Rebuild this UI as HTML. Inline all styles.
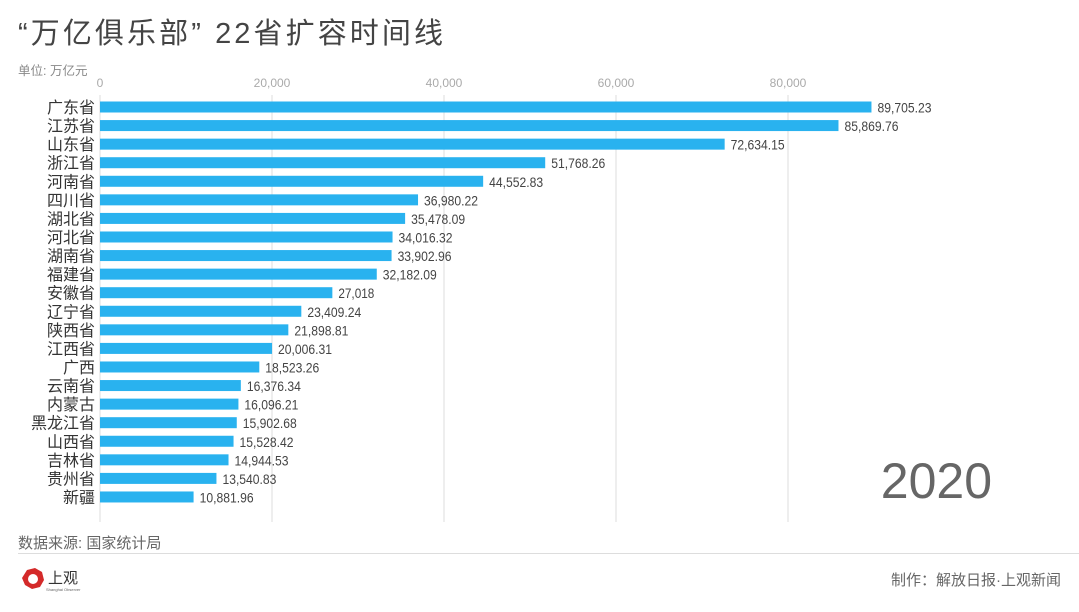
<!DOCTYPE html>
<html><head><meta charset="utf-8"><style>
body{margin:0;width:1079px;height:607px;background:#fff;overflow:hidden;font-family:"Liberation Sans","Noto Sans CJK SC",sans-serif;}
svg text{font-family:"Liberation Sans","Noto Sans CJK SC",sans-serif;}
</style></head><body>
<svg id="c" width="1079" height="607">
<text x="18" y="43" font-size="29" fill="#444" textLength="425" lengthAdjust="spacing">“万亿俱乐部” 22省扩容时间线</text>
<text x="18" y="75" font-size="12.5" fill="#888">单位: 万亿元</text>
<g id="grid"></g><g id="bars"></g>
<text x="992" y="498" font-size="50" fill="#666" text-anchor="end">2020</text>
<text x="18" y="548" font-size="15" fill="#666">数据来源: 国家统计局</text>
<line x1="18" y1="553.5" x2="1079" y2="553.5" stroke="#ddd"/>
<g>
<polygon points="27,570 35,568 42,572 44,580 40,587 32,589 25,585 22,578" fill="#d42a2a"/>
<circle cx="33" cy="579" r="5" fill="#fff"/>
<text x="48" y="583" font-size="15" fill="#333" font-family="Noto Serif CJK SC">上观</text>
<text x="46" y="591" font-size="4" fill="#666">Shanghai Observer</text>
</g>
<text x="1061" y="585" font-size="15" fill="#666" text-anchor="end">制作：解放日报·上观新闻</text>
</svg>
<script>
const provinces=["广东省","江苏省","山东省","浙江省","河南省","四川省","湖北省","河北省","湖南省","福建省","安徽省","辽宁省","陕西省","江西省","广西","云南省","内蒙古","黑龙江省","山西省","吉林省","贵州省","新疆"];
const values=[89705.23,85869.76,72634.15,51768.26,44552.83,36980.22,35478.09,34016.32,33902.96,32182.09,27018,23409.24,21898.81,20006.31,18523.26,16376.34,16096.21,15902.68,15528.42,14944.53,13540.83,10881.96];
const labels=["89,705.23","85,869.76","72,634.15","51,768.26","44,552.83","36,980.22","35,478.09","34,016.32","33,902.96","32,182.09","27,018","23,409.24","21,898.81","20,006.31","18,523.26","16,376.34","16,096.21","15,902.68","15,528.42","14,944.53","13,540.83","10,881.96"];
const ticks=[0,20000,40000,60000,80000];
const ticksLbl=["0","20,000","40,000","60,000","80,000"];
const NS="http://www.w3.org/2000/svg";
const x=v=>100+v*0.0086;
const y=i=>107+i*18.57;
function mk(t,a,p,txt){const e=document.createElementNS(NS,t);for(const k in a)e.setAttribute(k,a[k]);if(txt!=null)e.textContent=txt;p.appendChild(e);return e;}
const g=document.getElementById('grid'),b=document.getElementById('bars');
ticks.forEach((t,i)=>{
 const l=mk('line',{x1:x(t),x2:x(t),y1:95,y2:522,stroke:'#ddd'},g);
 
 
 const tx=mk('text',{x:x(t),y:87,'font-size':12,fill:'#aaa','text-anchor':'middle'},g,ticksLbl[i]);
 
 
});
provinces.forEach((p,i)=>{
 const r=mk('rect',{x:100,y:y(i)-5.5,width:x(values[i])-100,height:11,fill:'#29b2ef'},b);
 
 
 const c=mk('text',{x:95,y:y(i)+6,'font-size':16,fill:'#333','text-anchor':'end'},b,p);
 
 
 const s=labels[i];
 const v=mk('text',{x:x(values[i])+6,y:y(i)+5.5,'font-size':14,fill:'#444',textLength:(s.length*6).toFixed(0),lengthAdjust:'spacingAndGlyphs'},b,s);
 
 
});
</script>
</body></html>
